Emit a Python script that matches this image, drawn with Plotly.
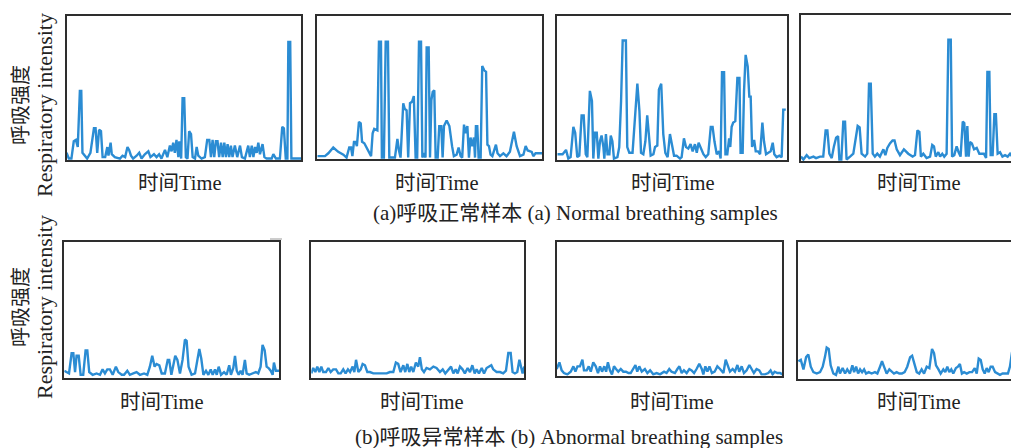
import plotly.graph_objects as go

# ---------------- data (time in % of window, intensity in % of panel height) ----------------
# (a) normal breathing samples
t_n1 = [0, 1, 2.1, 3.1, 4, 4.8, 5.7, 6.3, 6.8, 7.8,
        8.8, 10.2, 11.7, 12.4, 13.1, 13.9, 14.7, 15.4, 16.5, 17.4,
        17.9, 18.8, 19.3, 20.6, 22.8, 23.9, 25, 26, 26.7, 27.5,
        28.4, 29.9, 31, 32, 33.4, 34.9, 35.8, 37.3, 38.4, 39.5,
        40.5, 42, 43, 44.1, 44.8, 45.5, 46.2, 46.9, 47.7, 48.1,
        48.9, 49.5, 50.2, 50.9, 51.6, 52.3, 53.1, 53.8, 54.8, 55.5,
        56.2, 57.6, 59, 60, 60.9, 61.6, 62.3, 63, 63.7, 64.4,
        65.1, 65.9, 66.6, 67.3, 68, 68.7, 69.4, 70.1, 70.8, 71.8,
        72.8, 74, 74.8, 76.1, 77.5, 78.2, 79, 79.7, 80.4, 81.1,
        81.8, 82.5, 83.6, 84.4, 85.3, 87.5, 88.2, 89.3, 91, 92,
        92.7, 93.5, 94.2, 94.6, 95.4, 95.9, 100]
v_n1 = [5, 1, 1, 13, 14, 9, 48, 48, 5, 3,
        1, 5, 22, 22, 5, 21, 20, 2, 2, 9,
        3, 12, 4, 2, 1, 3, 2, 9, 7, 3,
        1, 3, 5, 1, 4, 6, 2, 4, 2, 4,
        1, 7, 2, 10, 6, 12, 5, 14, 2, 13,
        1, 43, 43, 2, 1, 20, 18, 2, 1, 9,
        3, 1, 2, 14, 14, 2, 14, 2, 13, 13,
        2, 12, 2, 12, 2, 11, 2, 10, 2, 10,
        2, 10, 2, 1, 10, 2, 10, 2, 9, 5,
        12, 4, 11, 2, 1, 1, 4, 1, 1, 23,
        22, 1, 1, 82, 82, 1, 1]

t_n2 = [0, 3.4, 4.9, 7.1, 9.3, 11.6, 13, 14.2, 15, 15.6,
        16.3, 17, 17.6, 18.5, 19.3, 19.9, 20.9, 21.9, 23.1, 23.9,
        24.6, 25.3, 26.7, 27.4, 28.3, 28.7, 29.6, 30.4, 31.4, 32,
        34.5, 35.6, 36.3, 37, 38.2, 38.9, 39.7, 40.4, 41.2, 42.1,
        42.9, 43.7, 44.4, 45.2, 46.1, 46.7, 47.4, 48.1, 48.6, 49.5,
        50.1, 50.7, 51.3, 52, 52.6, 53.5, 54.2, 55.1, 55.7, 56.3,
        57.5, 58.7, 59.9, 60.7, 61.9, 62.8, 63.7, 64.4, 65.2, 65.9,
        66.7, 67.4, 68.1, 68.9, 69.6, 70.1, 70.5, 71.1, 71.7, 72.6,
        73.3, 74.2, 75, 75.6, 76.3, 77, 77.8, 79.4, 80.1, 81.2,
        82.7, 84.1, 85.6, 87.4, 88.6, 90.1, 91.6, 92.6, 93.5, 95.3,
        96, 97, 100]
v_n2 = [2, 2, 4, 8, 5, 3, 1, 8, 8, 2,
        12, 12, 9, 26, 25, 12, 11, 8, 5, 2,
        18, 21, 20, 82, 82, 1, 1, 82, 82, 1,
        1, 14, 6, 1, 39, 35, 34, 1, 39, 40,
        44, 1, 1, 82, 82, 1, 4, 1, 78, 78,
        1, 41, 47, 48, 1, 1, 23, 23, 1, 23,
        27, 23, 9, 2, 3, 8, 2, 1, 24, 18,
        23, 1, 15, 9, 15, 1, 23, 23, 1, 1,
        65, 62, 61, 10, 9, 3, 2, 10, 4, 2,
        4, 2, 5, 19, 9, 2, 3, 9, 6, 5,
        2, 4, 4]

t_n3 = [0, 2.3, 3.8, 4.8, 5.8, 7, 7.8, 8.7, 9.6, 10.6,
        11.5, 12.4, 13.1, 14.2, 15.1, 15.7, 16.4, 17.2, 17.9, 18.6,
        19.3, 20.1, 20.5, 21.2, 21.9, 22.7, 23.3, 24, 24.7, 26.2,
        27, 27.8, 28.5, 29.9, 30.5, 31.4, 32.8, 33.9, 34.9, 35.8,
        36.5, 37.5, 38.4, 39.2, 40, 40.7, 41.9, 42.6, 43.6, 44.3,
        45.3, 46.2, 47.1, 48.1, 49.1, 50, 50.9, 52, 53.5, 54.2,
        55.2, 56.1, 57.1, 58.1, 59, 60, 60.8, 61.6, 62.5, 63.7,
        64.7, 65.8, 66.9, 67.7, 68.5, 69.5, 70.5, 71.2, 71.8, 72.7,
        73.3, 74.1, 74.9, 75.4, 76, 76.7, 77.6, 78.5, 79.4, 79.9,
        80.8, 81.4, 82.1, 83, 83.7, 84.3, 84.9, 85.8, 86.5, 87.5,
        88.4, 89.4, 90.1, 91, 92, 93, 93.9, 94.6, 95.6, 96.8,
        97.8, 98.5, 99.6]
v_n3 = [4, 4, 7, 1, 2, 23, 19, 2, 3, 31,
        31, 4, 2, 48, 41, 1, 19, 19, 1, 13,
        17, 9, 1, 18, 4, 4, 17, 13, 1, 2,
        9, 41, 83, 83, 9, 5, 5, 32, 53, 34,
        5, 4, 13, 31, 18, 3, 4, 9, 10, 49,
        53, 18, 5, 2, 18, 9, 3, 3, 1, 2,
        15, 9, 8, 11, 6, 11, 5, 12, 9, 4,
        2, 4, 23, 23, 13, 4, 6, 1, 61, 61,
        4, 4, 15, 9, 23, 26, 27, 57, 57, 5,
        5, 48, 73, 65, 44, 44, 9, 14, 6, 6,
        4, 26, 13, 4, 5, 6, 12, 4, 2, 3,
        2, 35, 35]

t_n4 = [0, 1.1, 2.6, 3.8, 5.7, 6.9, 8.7, 10.2, 11.3, 12.1,
        13, 14.1, 15.1, 16.1, 17, 17.6, 18.5, 19.4, 20.2, 20.9,
        22.5, 24, 26, 26.9, 27.8, 29.4, 30.4, 31.2, 32, 32.9,
        33.9, 35, 36.2, 37.8, 38.7, 39.6, 40.8, 42, 42.9, 43.9,
        45.4, 47.2, 49.2, 51.2, 52.3, 53.4, 54.3, 55, 56.1, 57.6,
        59.2, 60.2, 61, 61.8, 63, 63.8, 64.8, 65.7, 66.8, 67.6,
        68.7, 69.3, 70.3, 71.4, 72.3, 73.2, 74.2, 74.9, 75.7, 76.3,
        76.9, 77.5, 78.4, 79.4, 80.6, 81.8, 82.9, 83.9, 84.9, 85.5,
        86.4, 87, 87.9, 88.7, 89.4, 90.2, 91.3, 92.4, 93.6, 94.8,
        95.9, 96.9, 98.2, 99.2, 99.7, 100]
v_n4 = [3, 1, 4, 2, 3, 2, 3, 3, 21, 21,
        5, 2, 10, 16, 17, 1, 1, 27, 27, 1,
        3, 5, 24, 23, 5, 3, 5, 53, 53, 5,
        3, 5, 3, 8, 4, 9, 12, 14, 14, 8,
        4, 8, 5, 3, 4, 21, 20, 3, 5, 2,
        3, 11, 10, 3, 6, 3, 5, 3, 5, 83,
        83, 3, 4, 10, 6, 3, 27, 26, 3, 24,
        3, 13, 12, 8, 9, 5, 5, 5, 2, 61,
        61, 4, 4, 32, 32, 5, 6, 3, 4, 3,
        5, 3, 4, 3, 83, 83]

# (b) abnormal breathing samples
t_a1 = [0, 1.1, 2.2, 3.4, 4.2, 5, 5.7, 6.7, 7.6, 8.8,
        9.9, 10.7, 11.6, 13.2, 15, 16.6, 17.8, 18.9, 20, 21.2,
        22.5, 24, 25.1, 26.7, 27.8, 29.3, 30.5, 32.1, 33.6, 35.2,
        37.1, 38.6, 39.8, 40.9, 42, 42.9, 44.2, 45.3, 46.8, 48.1,
        48.8, 49.8, 50.7, 51.6, 52.6, 53.8, 55, 56.1, 56.9, 57.8,
        59.2, 60.8, 61.9, 62.8, 63.7, 64.7, 65.9, 67, 68.1, 69,
        70.1, 70.9, 71.8, 72.9, 74.3, 75.5, 76.7, 77.5, 78.6, 79.4,
        80.2, 81.1, 82, 82.9, 84, 84.8, 86, 87.6, 89.1, 90.2,
        91.3, 92.2, 93.2, 94.1, 95, 96, 96.9, 97.5, 98.4, 100]
v_a1 = [5, 4, 3, 18, 18, 4, 16, 16, 2, 2,
        20, 20, 4, 2, 3, 2, 6, 3, 6, 6,
        2, 8, 4, 2, 2, 5, 2, 3, 4, 2,
        3, 2, 8, 16, 8, 10, 9, 3, 3, 13,
        13, 2, 8, 16, 13, 3, 13, 28, 27, 8,
        2, 3, 13, 21, 14, 2, 5, 2, 6, 2,
        6, 2, 8, 2, 4, 2, 9, 2, 7, 16,
        5, 2, 5, 2, 13, 3, 2, 3, 4, 3,
        8, 24, 20, 8, 7, 5, 2, 11, 5, 5]

t_a2 = [0, 0.9, 1.9, 2.8, 3.8, 4.7, 5.6, 6.9, 8, 9.1,
        10.3, 11.6, 12.7, 13.8, 15, 16.1, 17.2, 18.2, 19.4, 20.2,
        21, 22.1, 23.2, 24.1, 25.2, 26.3, 27.5, 29.1, 30.7, 33,
        35.4, 36.9, 38.5, 39.7, 40.8, 41.9, 43.2, 44.1, 45.1, 46,
        46.9, 47.9, 49.1, 50.2, 51, 51.9, 52.9, 54.1, 55.7, 57.3,
        58.8, 60.4, 61.7, 62.9, 64.3, 65.6, 66.7, 67.8, 68.7, 69.8,
        71, 72.1, 73.4, 74.5, 75.6, 76.7, 77.6, 78.7, 80, 81.1,
        82.3, 83.4, 84.5, 85.4, 87, 88.6, 90.1, 91.4, 92.5, 93.6,
        94.5, 95.6, 96.7, 97.7, 98.6, 99.2, 100]
v_a2 = [3, 7, 4, 8, 4, 8, 4, 4, 7, 4,
        6, 6, 3, 3, 6, 3, 6, 4, 8, 4,
        13, 4, 6, 10, 9, 4, 4, 3, 3, 3,
        3, 4, 4, 11, 10, 4, 9, 4, 10, 4,
        8, 4, 11, 8, 15, 6, 4, 7, 6, 8,
        7, 4, 6, 3, 6, 8, 3, 6, 3, 8,
        6, 3, 7, 4, 9, 3, 6, 3, 7, 3,
        7, 8, 9, 6, 4, 4, 3, 5, 18, 18,
        4, 3, 4, 13, 6, 3, 8]

t_a3 = [0, 1.2, 2.2, 3.2, 4.7, 6.2, 7.4, 8.3, 9.2, 10.3,
        11.4, 12.1, 13.3, 14.2, 15.1, 16.2, 17.3, 18.3, 19.2, 20.1,
        21.1, 21.9, 22.7, 23.6, 24.5, 25.4, 26.3, 27.3, 28.4, 29.5,
        30.7, 31.8, 32.8, 34, 34.9, 35.7, 36.6, 37.7, 39.1, 40.2,
        41.4, 42.8, 44.3, 45.8, 47.6, 48.7, 49.9, 50.9, 52.4, 53.5,
        54.4, 55.4, 56.4, 57.6, 58.8, 59.8, 60.9, 62, 63.2, 64.3,
        65, 65.9, 66.8, 67.7, 68.8, 70, 71.2, 72.4, 73.9, 74.9,
        75.8, 76.8, 78, 79, 80.1, 80.9, 82, 83, 84.2, 85.4,
        86.4, 87.4, 88.6, 89.8, 90.8, 92.3, 93.8, 94.8, 95.7, 96.6,
        97.8, 99, 100]
v_a3 = [5, 10, 4, 2, 1, 3, 7, 3, 7, 7,
        12, 4, 4, 7, 3, 10, 7, 2, 7, 3,
        7, 3, 10, 4, 1, 7, 5, 3, 5, 3,
        3, 2, 2, 5, 8, 3, 7, 3, 5, 2,
        4, 1, 2, 1, 3, 2, 5, 3, 2, 5,
        7, 2, 4, 2, 5, 4, 2, 5, 9, 5,
        1, 7, 3, 7, 2, 3, 7, 5, 2, 12,
        7, 3, 5, 3, 8, 3, 7, 2, 4, 8,
        5, 2, 5, 4, 1, 1, 2, 4, 1, 3,
        2, 2, 1]

t_a4 = [0.3, 1.4, 2.6, 3.8, 4.8, 5.9, 7.1, 8.6, 10.1, 11.3,
        12.3, 13.1, 14, 14.9, 16.1, 17.3, 18.4, 19.1, 20.3, 21.4,
        22.4, 23.6, 24.7, 25.5, 26.4, 27.3, 28.2, 29.1, 30, 30.9,
        32.1, 33.4, 34.9, 36, 37.2, 38.1, 39, 40.2, 41.4, 42.6,
        43.5, 44.7, 45.9, 47.1, 48.3, 49.5, 50.8, 51.7, 52.6, 53.8,
        54.9, 56, 57.1, 58.3, 59.5, 60.7, 61.6, 62.5, 63.6, 64.6,
        65.8, 66.7, 67.6, 68.5, 69.4, 70.3, 71.5, 72.4, 73.3, 74.2,
        75.2, 76.4, 77.6, 78.8, 80, 80.9, 81.8, 82.7, 83.6, 84.5,
        85.4, 86.3, 87.2, 88.1, 89.2, 90.2, 91.4, 92.6, 93.8, 95,
        95.9, 96.8, 97.7, 98.6, 99.5, 100]
v_a4 = [13, 14, 7, 16, 18, 9, 5, 4, 5, 9,
        16, 23, 22, 10, 4, 3, 9, 4, 8, 4,
        7, 4, 10, 5, 9, 4, 7, 5, 7, 4,
        5, 4, 5, 4, 9, 13, 9, 4, 7, 5,
        4, 5, 4, 4, 5, 9, 16, 17, 11, 5,
        4, 7, 4, 9, 8, 22, 19, 10, 7, 4,
        7, 5, 9, 5, 7, 4, 8, 9, 11, 4,
        5, 4, 5, 5, 8, 4, 15, 14, 7, 4,
        8, 5, 9, 9, 5, 4, 3, 4, 4, 4,
        9, 19, 19, 8, 4, 5]

series = [(t_n1, v_n1), (t_n2, v_n2), (t_n3, v_n3), (t_n4, v_n4),
          (t_a1, v_a1), (t_a2, v_a2), (t_a3, v_a3), (t_a4, v_a4)]

x_label = "时间Time"
y_label_cn = "呼吸强度"
y_label_en = "Respiratory intensity"
caption_a = "(a)呼吸正常样本 (a) Normal breathing samples"
caption_b = "(b)呼吸异常样本 (b) Abnormal breathing samples"

# ---------------- layout geometry (page pixels; the page body adds an 8 px margin) ----------------
OFF = 8
W, H = 1019 - OFF, 448 - OFF
panels_px = [  # left, right, top, bottom
    (66.5, 301, 16, 160), (317.3, 542.3, 16, 159), (557.3, 786.7, 16, 160), (801, 1019, 15, 161),
    (64.3, 279.3, 242, 377.5), (311.3, 524.3, 241.5, 377.5), (556.7, 782.3, 242, 375.7), (797.7, 1019, 242.3, 379),
]
xlabel_px = [(180, 183), (437, 183), (673, 183), (919, 183),
             (162, 402), (422, 402), (672, 402), (919, 402)]


def px(x):
    return min(max((x - OFF) / W, 0.0), 1.0)


def py(y):
    return min(max(1 - (y - OFF) / H, 0.0), 1.0)


FONT = "Liberation Serif, 'Noto Sans CJK SC', serif"
LINE = "#2b8cd3"
FRAME = "#2e2e2e"
TXT = "#222"

fig = go.Figure()
layout = dict(width=W, height=H, margin=dict(l=0, r=0, t=0, b=0),
              paper_bgcolor="white", plot_bgcolor="white", showlegend=False)

annotations = []
for i, ((t, v), (l, r, tp, bt)) in enumerate(zip(series, panels_px)):
    k = "" if i == 0 else str(i + 1)
    fig.add_trace(go.Scatter(x=t, y=v, mode="lines", xaxis="x" + k, yaxis="y" + k,
                             line=dict(color=LINE, width=2.4), hoverinfo="skip"))
    last = (i % 4 == 3)
    layout["xaxis" + k] = dict(domain=[px(l), px(r)], range=[0, 100], anchor="y" + k,
                               showline=True, mirror=True, linecolor=FRAME, linewidth=2,
                               showgrid=False, zeroline=False, showticklabels=False, ticks="")
    layout["yaxis" + k] = dict(domain=[py(bt), py(tp)], range=[0, 100], anchor="x" + k,
                               showline=True, mirror=(not last), linecolor=FRAME, linewidth=2,
                               showgrid=False, zeroline=False, showticklabels=False, ticks="")
    cx, cy = xlabel_px[i]
    annotations.append(dict(text=x_label, x=px(cx), y=py(cy), xref="paper", yref="paper",
                            xanchor="center", yanchor="middle", showarrow=False,
                            font=dict(family=FONT, size=20.5, color=TXT)))

for cy in (105, 307):
    annotations.append(dict(text=y_label_cn, x=px(21), y=py(cy), xref="paper", yref="paper",
                            xanchor="center", yanchor="middle", showarrow=False, textangle=-90,
                            font=dict(family=FONT, size=20, color=TXT)))
    annotations.append(dict(text=y_label_en, x=px(44), y=py(cy), xref="paper", yref="paper",
                            xanchor="center", yanchor="middle", showarrow=False, textangle=-90,
                            font=dict(family=FONT, size=22, color=TXT)))

annotations.append(dict(text=caption_a, x=px(575), y=py(213), xref="paper", yref="paper",
                        xanchor="center", yanchor="middle", showarrow=False,
                        font=dict(family=FONT, size=21, color=TXT)))
annotations.append(dict(text=caption_b, x=px(569), y=py(437), xref="paper", yref="paper",
                        xanchor="center", yanchor="middle", showarrow=False,
                        font=dict(family=FONT, size=21, color=TXT)))

layout["annotations"] = annotations
# small stray tick mark visible above the lower-left panel in the original figure
layout["shapes"] = [dict(type="line", xref="paper", yref="paper",
                         x0=px(270), x1=px(282), y0=py(239), y1=py(239),
                         line=dict(color="#9a9a9a", width=1))]
fig.update_layout(**layout)
fig.write_html("out.html")
